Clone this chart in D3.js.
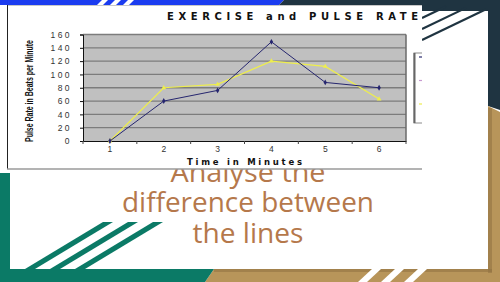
<!DOCTYPE html>
<html lang="en">
<head>
<meta charset="UTF-8">
<title>Exercise and Pulse Rate</title>
<script src="https://d3js.org/d3.v7.min.js"></script>
<style>
  body { margin: 0; background: #fff; overflow: hidden; }
  svg { display: block; }
  .tick text { font-family: "Liberation Sans", Arial, sans-serif; }
</style>
</head>
<body>
<svg id="slide" width="500" height="282"></svg>
<script>
// chart values
const minutes = [1, 2, 3, 4, 5, 6];
const pulseBlue = [0, 60, 76, 149, 88, 80];
const pulseYellow = [0, 80, 85, 120, 112, 63];
const yTicks = [0, 20, 40, 60, 80, 100, 120, 140, 160];
const legendColors = ["#2a2a70", "#c89ad0", "#eded50"];
const captionLines = ["Analyse the", "difference between", "the lines"];

const teal = "#0b7a66", gold = "#b8955a", navy = "#1f3441", blue = "#1b3cf0";

const svg = d3.select("#slide");

// ---- slide background ----
const bg = svg.append("g");
bg.append("rect").attr("width", 500).attr("height", 282).attr("fill", "#fff");
bg.append("polygon").attr("points", "0,0 284,0 279,5 0,5").attr("fill", blue);
bg.append("polygon").attr("points", "284,0 500,0 500,110 488,106 488,11 422,11 422,5 279,5").attr("fill", navy);
// white cuts in the blue strip
[97, 110, 123].forEach(x0 => {
  bg.append("polygon")
    .attr("points", `${x0 + 5},0 ${x0 + 11},0 ${x0 + 6},5 ${x0},5`)
    .attr("fill", "#fff");
});
bg.append("polygon").attr("points", "488,106 500,112 500,282 205,282 214,269 488,269").attr("fill", gold);
bg.append("polygon").attr("points", "0,173 10,173 10,269 214,269 205,282 0,282").attr("fill", teal);
// soft shadow of the white card on the gold
bg.append("rect").attr("x", 488).attr("y", 108).attr("width", 4).attr("height", 165).attr("fill", "#8f7142").attr("opacity", 0.55);
bg.append("rect").attr("x", 214).attr("y", 269).attr("width", 278).attr("height", 3).attr("fill", "#8f7142").attr("opacity", 0.55);
// white stripes in the gold footer
[358, 381, 404].forEach(x0 => {
  bg.append("polygon")
    .attr("points", `${x0 + 14},269 ${x0 + 23},269 ${x0 + 9},282 ${x0},282`)
    .attr("fill", "#fff");
});
// white card
bg.append("rect").attr("x", 10).attr("y", 11).attr("width", 478).attr("height", 258).attr("fill", "#fff");
// teal stripes, bottom left
[103, 128, 153].forEach(x0 => {
  bg.append("polygon")
    .attr("points", `${x0},222 ${x0 + 10},222 ${x0 - 68},269 ${x0 - 78},269`)
    .attr("fill", teal);
});
// navy strokes, top right
[[422, 18, 446], [422, 29, 466], [422, 40, 486]].forEach(([x1, y1, x2]) => {
  bg.append("line")
    .attr("x1", x1).attr("y1", y1)
    .attr("x2", x2).attr("y2", y1 - (x2 - x1) * 0.48)
    .attr("stroke", navy).attr("stroke-width", 2.2);
});

// ---- caption ----
const captionY = [182, 212, 243];
const captionW = [155, 252, 111];
svg.append("g")
  .selectAll("text")
  .data(captionLines)
  .join("text")
  .attr("x", 248)
  .attr("y", (d, i) => captionY[i])
  .attr("text-anchor", "middle")
  .attr("textLength", (d, i) => captionW[i])
  .attr("lengthAdjust", "spacingAndGlyphs")
  .attr("font-family", "'Open Sans', sans-serif")
  .attr("font-size", 27)
  .attr("fill", "#b5784b")
  .text(d => d);

// ---- pasted chart picture ----
svg.append("clipPath").attr("id", "chart-clip")
  .append("rect").attr("x", 7).attr("y", 5).attr("width", 415).attr("height", 165);

const chart = svg.append("g").attr("clip-path", "url(#chart-clip)");
chart.append("rect").attr("x", 7).attr("y", 5).attr("width", 415).attr("height", 164).attr("fill", "#fff");
chart.append("line").attr("x1", 7).attr("x2", 422).attr("y1", 5.5).attr("y2", 5.5).attr("stroke", "#c8c8c8");
chart.append("line").attr("x1", 7.5).attr("x2", 7.5).attr("y1", 5).attr("y2", 169).attr("stroke", "#222");
chart.append("line").attr("x1", 7).attr("x2", 422).attr("y1", 169).attr("y2", 169).attr("stroke", "#9a9a9a").attr("stroke-width", 1.5);

const x = d3.scaleBand().domain(minutes).range([83, 406]);
const y = d3.scaleLinear().domain([0, 160]).range([141, 34.5]);

chart.append("rect")
  .attr("x", 83).attr("y", y(160))
  .attr("width", 323).attr("height", y(0) - y(160))
  .attr("fill", "#c0c0c0");

chart.append("g")
  .selectAll("line")
  .data(yTicks.filter(d => d > 0))
  .join("line")
  .attr("x1", 83).attr("x2", 406)
  .attr("y1", d => y(d)).attr("y2", d => y(d))
  .attr("stroke", "#7c7c7c").attr("stroke-width", 1.3);

chart.append("line").attr("x1", 406).attr("x2", 406).attr("y1", y(160)).attr("y2", y(0))
  .attr("stroke", "#6a6a6a").attr("stroke-width", 1.5);

const yAxis = chart.append("g")
  .attr("transform", "translate(83,0)")
  .call(d3.axisLeft(y).tickValues(yTicks).tickSize(3).tickPadding(8));
yAxis.select(".domain").attr("stroke", "#111");
yAxis.selectAll(".tick line").attr("stroke", "#111");
yAxis.selectAll(".tick text")
  .attr("font-size", 8.5).attr("letter-spacing", 2.4).attr("fill", "#333");

const xAxis = chart.append("g")
  .attr("transform", `translate(0,${y(0)})`)
  .call(d3.axisBottom(x).tickSize(0).tickPadding(5));
xAxis.select(".domain").attr("stroke", "#111");
xAxis.selectAll(".tick text").attr("font-size", 8.5).attr("fill", "#333");
// boundary ticks between the minute columns
xAxis.append("g")
  .selectAll("line")
  .data(minutes.map(m => x(m)).concat([x.range()[1]]))
  .join("line")
  .attr("x1", d => d).attr("x2", d => d)
  .attr("y1", 0).attr("y2", 3)
  .attr("stroke", "#444");

chart.append("text")
  .attr("x", 167).attr("y", 19.5)
  .attr("textLength", 251).attr("lengthAdjust", "spacing")
  .attr("font-family", "'DejaVu Sans', sans-serif")
  .attr("font-weight", "bold").attr("font-size", 10)
  .attr("fill", "#111")
  .text("EXERCISE and PULSE RATE");

chart.append("text")
  .attr("x", 187).attr("y", 164.5)
  .attr("textLength", 115).attr("lengthAdjust", "spacing")
  .attr("font-family", "'DejaVu Sans', sans-serif")
  .attr("font-weight", "bold").attr("font-size", 8.5)
  .attr("fill", "#111")
  .text("Time in Minutes");

chart.append("text")
  .attr("transform", "translate(32.5,91) rotate(-90)")
  .attr("text-anchor", "middle")
  .attr("textLength", 102).attr("lengthAdjust", "spacingAndGlyphs")
  .attr("font-family", "'Liberation Sans Narrow', 'Liberation Sans', Arial, sans-serif")
  .attr("font-weight", "bold").attr("font-size", 11.5)
  .attr("fill", "#111")
  .text("Pulse Rate in Beats per Minute");

const cx = m => x(m) + x.bandwidth() / 2;
const line = d3.line().x(d => cx(d[0])).y(d => y(d[1]));

const series = [
  { values: pulseYellow, color: "#eeee4c", width: 1.2, symbol: d3.symbolTriangle },
  { values: pulseBlue, color: "#26266f", width: 1, symbol: d3.symbolDiamond }
];

series.forEach(s => {
  const pts = minutes.map((m, i) => [m, s.values[i]]);
  chart.append("path")
    .attr("d", line(pts))
    .attr("fill", "none")
    .attr("stroke", s.color)
    .attr("stroke-width", s.width);
  chart.append("g")
    .selectAll("path")
    .data(pts)
    .join("path")
    .attr("transform", d => `translate(${cx(d[0])},${y(d[1])})`)
    .attr("d", d3.symbol().type(s.symbol).size(10))
    .attr("fill", s.color);
});

// legend, cut off by the picture edge
const legend = chart.append("g").attr("transform", "translate(414,53)");
legend.append("rect").attr("width", 30).attr("height", 70)
  .attr("fill", "#fff").attr("stroke", "#8a8a8a");
legend.append("line").attr("x1", 0.5).attr("x2", 0.5).attr("y1", 0).attr("y2", 70)
  .attr("stroke", "#666").attr("stroke-width", 2);
legend.selectAll(".key")
  .data(legendColors)
  .join("line")
  .attr("class", "key")
  .attr("x1", 5).attr("x2", 9)
  .attr("y1", (d, i) => 4 + i * 23.5).attr("y2", (d, i) => 4 + i * 23.5)
  .attr("stroke", d => d).attr("stroke-width", 1.2);
</script>
</body>
</html>
